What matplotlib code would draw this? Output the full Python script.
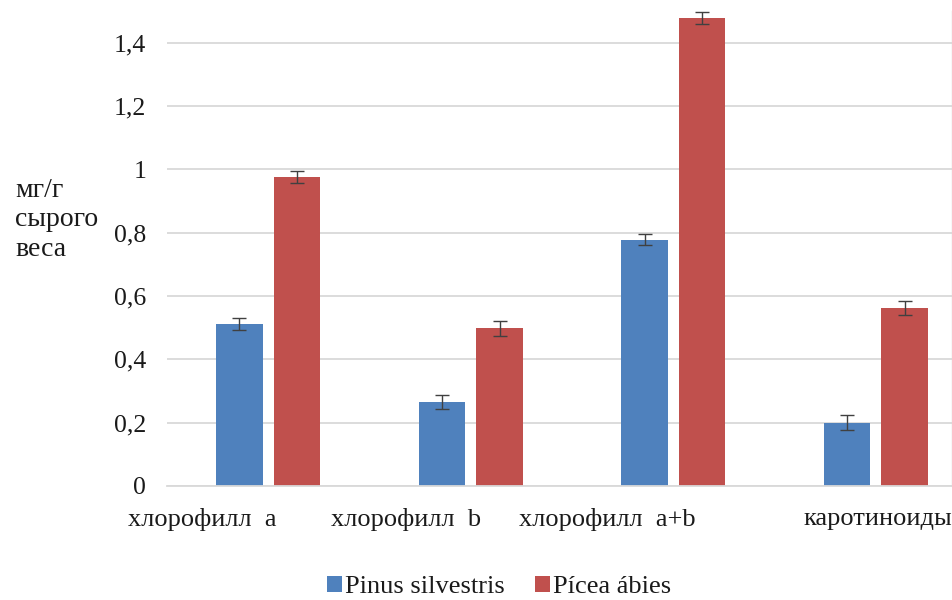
import matplotlib
matplotlib.use("Agg")
import matplotlib.pyplot as plt
import matplotlib.transforms as mtransforms
import numpy as np

categories = ["хлорофилл  a", "хлорофилл  b", "хлорофилл  a+b", "каротиноиды"]
series_names = ["Pinus silvestris", "Pícea ábies"]
pinus = [0.512, 0.264, 0.778, 0.200]
pinus_err = [0.018, 0.022, 0.018, 0.023]
picea = [0.976, 0.498, 1.478, 0.562]
picea_err = [0.020, 0.024, 0.019, 0.023]
yticks = [0, 0.2, 0.4, 0.6, 0.8, 1.0, 1.2, 1.4]
ytick_labels = ["0", "0,2", "0,4", "0,6", "0,8", "1", "1,2", "1,4"]
ylabel = "мг/г\nсырого\nвеса"

plt.rcParams['font.family'] = ['Liberation Serif', 'DejaVu Serif']

W, H = 953, 600
fig = plt.figure(figsize=(W / 100, H / 100), dpi=100)
left_px, right_px, top_px, bottom_px = 167, 952, 11, 486
ax = fig.add_axes([left_px / W, 1 - bottom_px / H, (right_px - left_px) / W, (bottom_px - top_px) / H])

x = np.arange(len(categories))
width = 0.23
off = 0.142
blue = "#4F81BD"
red = "#C0504D"
ekw = dict(ecolor="#404040", elinewidth=1.0, capsize=4.7, capthick=1.0)
ax.bar(x - off, pinus, width, color=blue, yerr=pinus_err, error_kw=ekw, label=series_names[0], zorder=2)
ax.bar(x + off, picea, width, color=red, yerr=picea_err, error_kw=ekw, label=series_names[1], zorder=2)

# full category span is 4 units; the picture is cut on the right
ax.set_xlim(-0.5, 3.5 - (977 - 952) / 202.4)
ax.set_ylim(0, 1.5)
ax.set_yticks(yticks)
ax.set_yticklabels(ytick_labels, fontsize=18.5)
ax.yaxis.grid(True, color="#D9D9D9", linewidth=1.3, zorder=0)
ax.set_axisbelow(True)
ax.tick_params(axis="y", length=0, pad=15, labelcolor="#1a1a1a")
ax.tick_params(axis="x", length=0, pad=16, labelcolor="#1a1a1a")
for s in ["left", "top"]:
    ax.spines[s].set_visible(False)
ax.spines["bottom"].set_color("#D9D9D9")
ax.spines["bottom"].set_linewidth(1.3)
ax.spines["right"].set_color("#D9D9D9")
ax.spines["right"].set_linewidth(1.0)

ax.set_xticks(x)
ax.set_xticklabels(categories, fontsize=19)
shifts_px = [-66, -65, -66, 2]
for lab, dx in zip(ax.get_xticklabels(), shifts_px):
    lab.set_transform(lab.get_transform() + mtransforms.ScaledTranslation(dx / 100, 0, fig.dpi_scale_trans))

fig.text(15 / W, 1 - 220 / H, ylabel, fontsize=20, ha="left", va="center", linespacing=1.22, color="#1a1a1a")

leg = fig.legend(loc="center", bbox_to_anchor=(499 / W, 1 - 587 / H), ncol=2, frameon=False,
                 fontsize=19, handlelength=0.55, handleheight=0.55, handletextpad=0.12,
                 columnspacing=1.15)
for t in leg.get_texts():
    t.set_color("#1a1a1a")

fig.savefig("out.png", dpi=100)
